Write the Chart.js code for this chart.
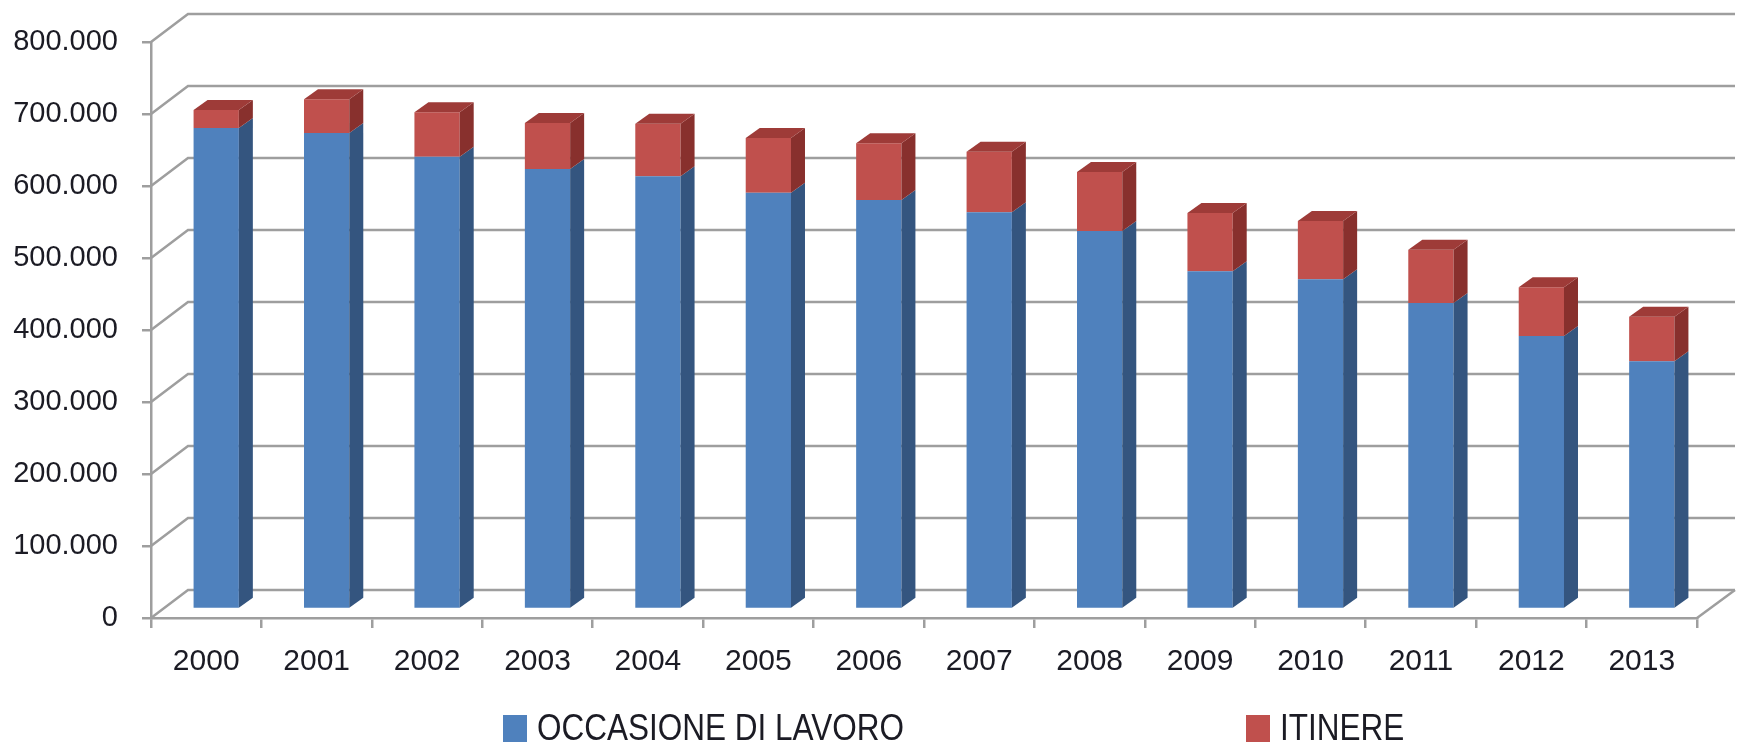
<!DOCTYPE html>
<html>
<head>
<meta charset="utf-8">
<script src="https://cdn.jsdelivr.net/npm/chart.js@4.4.1/dist/chart.umd.min.js"></script>
<style>
    html, body { margin: 0; padding: 0; background: #ffffff; }
    #contenitore { width: 1738px; height: 743px; }
</style>
</head>
<body>
<div id="contenitore">
    <canvas id="graficoInfortuni" width="1738" height="743"></canvas>
</div>
<script>
const anni = ['2000', '2001', '2002', '2003', '2004', '2005', '2006', '2007', '2008', '2009', '2010', '2011', '2012', '2013'];
const occasioneDiLavoro = [668000, 661000, 628000, 611000, 601000, 578000, 568000, 551000, 525000, 469000, 458000, 425000, 379000, 344000];
const itinere = [25000, 47000, 62000, 64000, 73000, 76000, 79000, 84000, 82000, 81000, 81000, 74000, 68000, 62000];
const valoriAsse = [0, 100000, 200000, 300000, 400000, 500000, 600000, 700000, 800000];

const colori = {
    blu: '#4F81BD',
    bluLato: '#34557F',
    rosso: '#C0504D',
    rossoLato: '#88302D',
    rossoSopra: '#9E3B38',
    griglia: '#9E9E9E',
    testo: '#1B1B24'
};

// profondita' delle pareti e dei parallelepipedi
const pareti = { dx: 37, dy: 28 };
const barre = { spostX: 10, spostY: -9, dx: 14, dy: 10 };

function formattaMigliaia(v) {
    return String(v).replace(/\B(?=(\d{3})+(?!\d))/g, '.');
}

const stileTesto = {
    color: colori.testo,
    font: {
        family: "'Liberation Sans', Arial, sans-serif",
        size: 29
    }
};

const pluginPareti = {
    id: 'pareti3d',
    beforeDatasetsDraw(chart) {
        const ctx = chart.ctx;
        const area = chart.chartArea;
        const y = chart.scales.y;
        ctx.save();
        ctx.strokeStyle = colori.griglia;
        ctx.lineWidth = 2.5;
        valoriAsse.forEach(v => {
            const py = y.getPixelForValue(v);
            ctx.beginPath();
            ctx.moveTo(area.left, py);
            ctx.lineTo(area.left + pareti.dx, py - pareti.dy);
            ctx.lineTo(area.right + pareti.dx + 1, py - pareti.dy);
            ctx.stroke();
        });
        // bordo destro del pavimento
        ctx.beginPath();
        ctx.moveTo(area.right, area.bottom);
        ctx.lineTo(area.right + pareti.dx + 1, area.bottom - pareti.dy);
        ctx.stroke();
        ctx.restore();

        // le facce frontali delle barre stanno a meta' profondita'
        ctx.save();
        ctx.translate(barre.spostX, barre.spostY);
    },
    afterDatasetsDraw(chart) {
        const ctx = chart.ctx;
        const ultimo = chart.data.datasets.length - 1;
        chart.data.datasets.forEach((ds, i) => {
            const meta = chart.getDatasetMeta(i);
            meta.data.forEach(el => {
                const p = el.getProps(['x', 'y', 'base', 'width'], true);
                const sx = p.x - p.width / 2;
                const dx = p.x + p.width / 2;
                const alto = Math.min(p.y, p.base);
                const basso = Math.max(p.y, p.base);
                ctx.fillStyle = ds.coloreLato;
                ctx.beginPath();
                ctx.moveTo(dx, basso);
                ctx.lineTo(dx + barre.dx, basso - barre.dy);
                ctx.lineTo(dx + barre.dx, alto - barre.dy);
                ctx.lineTo(dx, alto);
                ctx.closePath();
                ctx.fill();
                if (i === ultimo) {
                    ctx.fillStyle = ds.coloreSopra;
                    ctx.beginPath();
                    ctx.moveTo(sx, alto);
                    ctx.lineTo(sx + barre.dx, alto - barre.dy);
                    ctx.lineTo(dx + barre.dx, alto - barre.dy);
                    ctx.lineTo(dx, alto);
                    ctx.closePath();
                    ctx.fill();
                }
            });
        });
        ctx.restore();
    }
};

const pluginLegenda = {
    id: 'legendaLarga',
    afterDraw(chart) {
        const ctx = chart.ctx;
        const inizi = [503, 1246];
        ctx.save();
        ctx.font = "36px 'Liberation Sans', Arial, sans-serif";
        ctx.textBaseline = 'alphabetic';
        chart.data.datasets.forEach((ds, i) => {
            const x = inizi[i];
            ctx.fillStyle = ds.backgroundColor;
            ctx.fillRect(x, 715, 24, 27);
            ctx.fillStyle = colori.testo;
            const larghezza = ctx.measureText(ds.label).width;
            ctx.fillText(ds.label, x + 34, 740, larghezza * 0.875);
        });
        ctx.restore();
    }
};

const ctxInfortuni = document.getElementById('graficoInfortuni');
new Chart(ctxInfortuni, {
    type: 'bar',
    data: {
        labels: anni,
        datasets: [{
            label: 'OCCASIONE DI LAVORO',
            data: occasioneDiLavoro,
            backgroundColor: colori.blu,
            coloreLato: colori.bluLato,
            coloreSopra: colori.blu,
            borderWidth: 0,
            clip: false
        }, {
            label: 'ITINERE',
            data: itinere,
            backgroundColor: colori.rosso,
            coloreLato: colori.rossoLato,
            coloreSopra: colori.rossoSopra,
            borderWidth: 0,
            clip: false
        }]
    },
    options: {
        responsive: false,
        animation: false,
        layout: {
            padding: { top: 42, right: 41, bottom: 65, left: 0 }
        },
        barPercentage: 0.41,
        categoryPercentage: 1,
        plugins: {
            legend: { display: false },
            tooltip: { enabled: false }
        },
        scales: {
            x: {
                stacked: true,
                grid: {
                    drawOnChartArea: false,
                    color: colori.griglia,
                    lineWidth: 2.5,
                    tickLength: 10
                },
                border: { color: colori.griglia, width: 2.5 },
                ticks: {
                    ...stileTesto,
                    font: { ...stileTesto.font, size: 30 },
                    padding: 16,
                    maxRotation: 0,
                    minRotation: 0
                },
                afterFit(scala) { scala.height = 60; }
            },
            y: {
                stacked: true,
                min: 0,
                max: 800000,
                grid: {
                    drawOnChartArea: false,
                    color: colori.griglia,
                    lineWidth: 2.5,
                    tickLength: 9
                },
                border: { color: colori.griglia, width: 2.5 },
                ticks: {
                    ...stileTesto,
                    stepSize: 100000,
                    padding: 24,
                    callback: v => formattaMigliaia(v)
                },
                afterFit(scala) { scala.width = 151; }
            }
        }
    },
    plugins: [pluginPareti, pluginLegenda]
});
</script>
</body>
</html>
